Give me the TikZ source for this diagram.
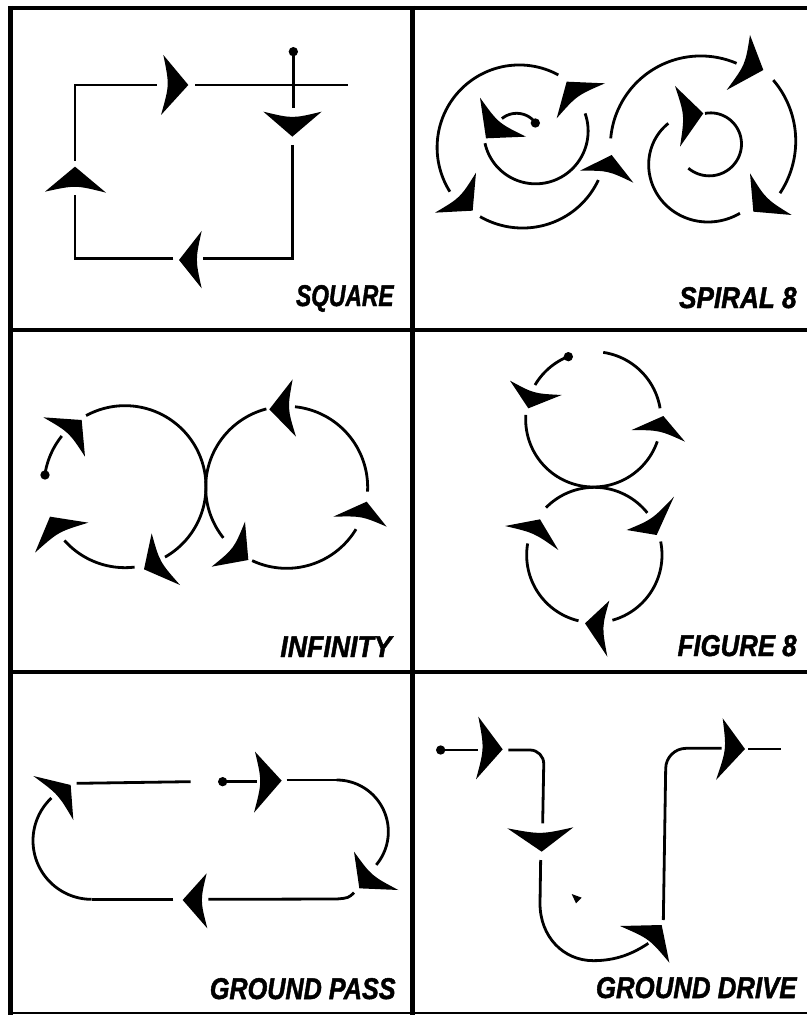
\documentclass[tikz,border=0pt]{standalone}
\usepackage{fontspec}
\usepackage{graphicx}
\usetikzlibrary{calc}
\newfontfamily\labfont{Liberation Sans}[BoldItalicFeatures={FakeBold=1.6}]
% arrowhead: tip, wing, wing (concave back edge)
\newcommand\arh[3]{\fill #1 -- #2 .. controls ($ ($#2!0.5!#3$)!0.28!#1 $) .. #3 -- cycle;}
% circular arc: cx cy r a1 a2 (screen angles, y downwards)
\newcommand\carc[5]{\draw plot[domain=#4:#5, samples=60, variable=\t] ({#1+#3*cos(\t)},{#2+#3*sin(\t)});}
% spiral arc: cx cy a1 r1 a2 r2
\newcommand\sarc[6]{\draw plot[domain=#3:#5, samples=60, variable=\t] ({#1+(#4+(#6-#4)*(\t-(#3))/((#5)-(#3)))*cos(\t)},{#2+(#4+(#6-#4)*(\t-(#3))/((#5)-(#3)))*sin(\t)});}
\newcommand\startdot[1]{\fill #1 circle[radius=14];}
\tikzset{
  lab/.style={anchor=base east, inner sep=0pt, font=\labfont\bfseries\itshape\fontsize{30}{32}\selectfont},
  frame/.style={line width=4.5pt},
  panel/.style={scale=0.33333},
}
\begin{document}
\begin{tikzpicture}[x=1pt, y=-1pt, line width=2.8pt]
\useasboundingbox (0,0) rectangle (807,1016);
\fill[white] (0,0) rectangle (807,1016);

% ---------- frame ----------
\draw[frame] (8,8) -- (807,8);
\draw[frame] (8,330) -- (807,330);
\draw[frame] (8,672) -- (807,672);
\draw[line width=2.5pt] (8,1013) -- (807,1013);
\draw[line width=5pt] (10,6) -- (10,1015);
\draw[line width=5pt] (412.5,6) -- (412.5,1015);

% ---------- SQUARE ----------
\begin{scope}[panel]
\startdot{(880,155)}
\draw (880,155) -- (880,325);
\arh{(877,410)}{(790,335)}{(965,335)}
\draw (877,435) -- (877,775) -- (610,775);
\arh{(537,780)}{(605,693)}{(605,865)}
\draw (520,775) -- (225,775) -- (225,585);
\arh{(225,500)}{(135,575)}{(318,578)}
\draw (225,483) -- (225,255) -- (470,255);
\arh{(565,255)}{(490,165)}{(483,345)}
\draw (585,255) -- (1045,255);
\end{scope}
\node[lab] (lsq) at (395,306) {\scalebox{0.76}[1]{SQUARE}};

% ---------- SPIRAL 8 ----------
\begin{scope}[shift={(400,0)}, panel]
\startdot{(406,369)}
\carc{350}{410}{70}{-129.3}{-36}
\arh{(258,415)}{(240,293)}{(378,410)}
\sarc{405}{395}{-20}{160}{167}{154}
\arh{(500,245)}{(615,250)}{(470,355)}
\sarc{360}{440}{-212.7}{250}{-61.9}{244}
\arh{(218,632)}{(228,518)}{(105,638)}
\sarc{375}{430}{26.6}{246}{121.5}{258}
\arh{(635,465)}{(540,512)}{(700,548)}
\sarc{900}{440}{-174.7}{269}{-66.3}{273}
\arh{(1090,210)}{(1050,105)}{(980,270)}
\sarc{905}{420}{-39.9}{280}{34.2}{284}
\arh{(1060,635)}{(1050,520)}{(1175,645)}
\sarc{910}{480}{55.5}{194}{226.3}{152}
\arh{(910,340)}{(825,258)}{(840,440)}
\sarc{930}{430}{-99.5}{91}{131}{99}
\end{scope}
\node[lab] (lsp) at (798,308) {\scalebox{0.87}[1]{SPIRAL 8}};

% ---------- INFINITY ----------
\begin{scope}[shift={(0,330)}, panel]
\startdot{(135,435)}
\carc{375}{470}{243}{188.4}{218.7}
\arh{(245,270)}{(130,262)}{(255,380)}
\carc{375}{470}{243}{241.3}{360}
\carc{860}{472}{243}{141.4}{180}
\arh{(745,690)}{(735,575)}{(635,710)}
\carc{860}{472}{243}{31.1}{115.2}
\arh{(1100,515)}{(1000,560)}{(1160,590)}
\carc{860}{472}{243}{-84.1}{3}
\arh{(808,238)}{(878,148)}{(888,320)}
\carc{860}{472}{243}{-180}{-104.5}
\carc{375}{470}{243}{0}{60.4}
\arh{(432,718)}{(455,610)}{(540,765)}
\carc{375}{470}{243}{83.2}{138.4}
\arh{(150,560)}{(265,578)}{(105,668)}
\end{scope}
\node[lab] (lin) at (393,657) {\scalebox{0.89}[1]{INFINITY}};

% ---------- FIGURE 8 ----------
\begin{scope}[shift={(400,330)}, panel]
\startdot{(505,80)}
\carc{580}{268}{203}{210.5}{248.2}
\arh{(385,235)}{(330,152)}{(485,195)}
\carc{580}{268}{203}{19}{183.7}
\arh{(790,258)}{(695,300)}{(855,335)}
\carc{580}{268}{203}{-81.6}{-9.4}
\carc{583}{675}{203}{224.4}{321.5}
\arh{(770,615)}{(822,500)}{(680,600)}
\carc{583}{675}{203}{-11.5}{74.5}
\arh{(555,880)}{(628,812)}{(622,980)}
\carc{583}{675}{203}{103.5}{189.8}
\arh{(420,568)}{(315,588)}{(475,660)}
\end{scope}
\node[lab] (lfi) at (798,656) {\scalebox{0.86}[1]{FIGURE 8}};

% ---------- GROUND PASS ----------
\begin{scope}[shift={(0,670)}, panel]
\startdot{(668,335)}
\draw (668,335) -- (770,335);
\arh{(845,332)}{(765,245)}{(762,428)}
\draw (860,330) -- (1010,330);
\carc{1010}{485}{155}{-90}{40}
\arh{(1078,655)}{(1062,545)}{(1195,660)}
\draw (1062,668) .. controls (1045,684) .. (1010,687) -- (625,688);
\arh{(548,690)}{(620,610)}{(622,775)}
\draw (520,688) -- (275,688);
\carc{275}{512}{176}{90}{226.6}
\arh{(212,345)}{(100,318)}{(220,450)}
\draw (230,340) -- (572,335);
\end{scope}
\node[lab] (lgp) at (397,999) {\scalebox{0.84}[1]{GROUND PASS}};

% ---------- GROUND DRIVE ----------
\begin{scope}[shift={(400,670)}, panel]
\startdot{(122,240)}
\draw (122,240) -- (235,240);
\arh{(308,238)}{(235,140)}{(228,328)}
\draw[rounded corners=14pt] (325,240) -- (432,240) -- (428,460);
\arh{(425,545)}{(322,475)}{(520,472)}
\draw (422,570) -- (420,700) .. controls (420,800) and (490,872) .. (580,872) .. controls (650,872) and (700,850) .. (745,820);
\fill (515,672) -- (545,683) -- (528,700) -- cycle;
\arh{(785,765)}{(660,768)}{(808,878)}
\draw[rounded corners=20pt] (790,750) -- (798,235) -- (965,235);
\arh{(1035,237)}{(968,145)}{(948,330)}
\draw (1045,237) -- (1142,237);
\end{scope}
\node[lab] (lgd) at (798,998) {\scalebox{0.86}[1]{GROUND DRIVE}};
\end{tikzpicture}
\end{document}
